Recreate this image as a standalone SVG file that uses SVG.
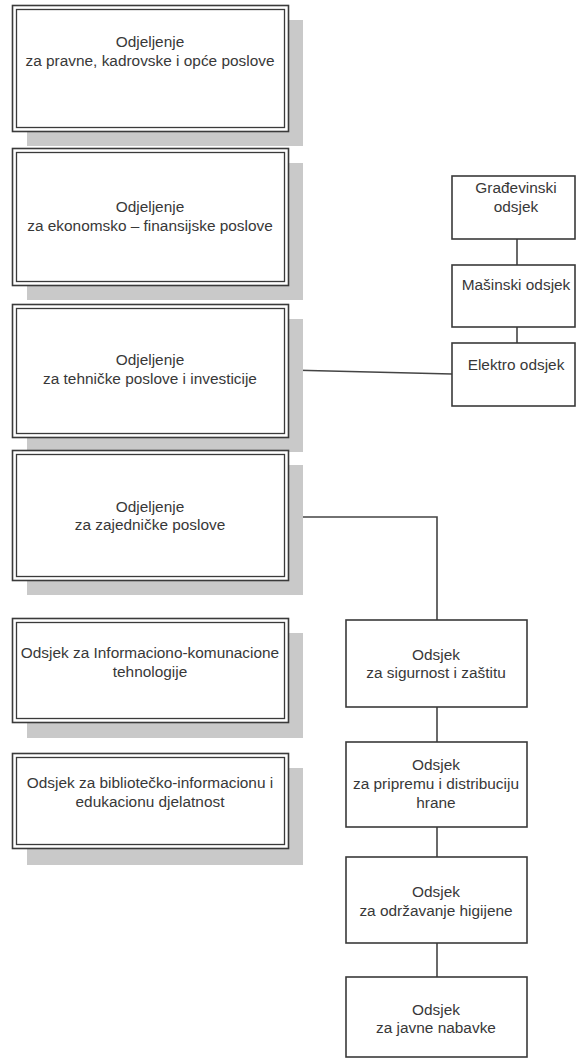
<svg xmlns="http://www.w3.org/2000/svg" width="576" height="1059" viewBox="0 0 576 1059">
  <style>
    .shadow { fill: #c9c9c9; stroke: none; }
    .outer { fill: #ffffff; stroke: #3a3a3a; stroke-width: 1.6; }
    .inner { fill: none; stroke: #3a3a3a; stroke-width: 1.3; }
    .box { fill: #ffffff; stroke: #3a3a3a; stroke-width: 1.6; }
    .lbl { font-family: "Liberation Sans", Arial, sans-serif; font-size: 15.4px; fill: #383838; text-anchor: middle; }
    .conn { fill: none; stroke: #444444; stroke-width: 1.6; }
  </style>

  <rect width="576" height="1059" fill="#ffffff"/>

  <!-- connectors -->
  <g id="connectors">
    <line class="conn" x1="517" y1="239" x2="517" y2="265"/>
    <line class="conn" x1="517" y1="327" x2="517" y2="343"/>
    <line class="conn" x1="288" y1="370" x2="452" y2="374"/>
    <polyline class="conn" points="288,517 437,517 437,620"/>
    <line class="conn" x1="437" y1="707" x2="437" y2="742"/>
    <line class="conn" x1="437" y1="827" x2="437" y2="857"/>
    <line class="conn" x1="437" y1="943" x2="437" y2="977"/>
  </g>

  <!-- departments (double border with drop shadow) -->
  <g id="odjeljenje-pravne">
    <rect class="shadow" x="27" y="20" width="276" height="126"/>
    <rect class="outer" x="12.5" y="5.5" width="276" height="126"/>
    <rect class="inner" x="16.5" y="9.5" width="268" height="118"/>
    <text class="lbl" x="150" y="47">Odjeljenje</text>
    <text class="lbl" x="150" y="66">za pravne, kadrovske i opće poslove</text>
  </g>

  <g id="odjeljenje-ekonomsko">
    <rect class="shadow" x="27" y="163" width="276" height="137"/>
    <rect class="outer" x="12.5" y="148.5" width="276" height="137"/>
    <rect class="inner" x="16.5" y="152.5" width="268" height="129"/>
    <text class="lbl" x="150" y="212">Odjeljenje</text>
    <text class="lbl" x="150" y="231">za ekonomsko – finansijske poslove</text>
  </g>

  <g id="odjeljenje-tehnicke">
    <rect class="shadow" x="27" y="319" width="276" height="133"/>
    <rect class="outer" x="12.5" y="304.5" width="276" height="133"/>
    <rect class="inner" x="16.5" y="308.5" width="268" height="125"/>
    <text class="lbl" x="150" y="365">Odjeljenje</text>
    <text class="lbl" x="150" y="384">za tehničke poslove i investicije</text>
  </g>

  <g id="odjeljenje-zajednicke">
    <rect class="shadow" x="27" y="465" width="276" height="130"/>
    <rect class="outer" x="12.5" y="450.5" width="276" height="130"/>
    <rect class="inner" x="16.5" y="454.5" width="268" height="122"/>
    <text class="lbl" x="150" y="512">Odjeljenje</text>
    <text class="lbl" x="150" y="530">za zajedničke poslove</text>
  </g>

  <g id="odsjek-ikt">
    <rect class="shadow" x="27" y="633" width="276" height="105"/>
    <rect class="outer" x="12.5" y="618.5" width="276" height="104"/>
    <rect class="inner" x="16.5" y="622.5" width="268" height="96"/>
    <text class="lbl" x="150" y="658">Odsjek za Informaciono-komunacione</text>
    <text class="lbl" x="150" y="677">tehnologije</text>
  </g>

  <g id="odsjek-biblioteka">
    <rect class="shadow" x="27" y="768" width="276" height="97"/>
    <rect class="outer" x="12.5" y="753.5" width="276" height="95"/>
    <rect class="inner" x="16.5" y="757.5" width="268" height="87"/>
    <text class="lbl" x="150" y="788">Odsjek za bibliotečko-informacionu i</text>
    <text class="lbl" x="150" y="807">edukacionu djelatnost</text>
  </g>

  <!-- technical sections -->
  <g id="gradjevinski">
    <rect class="box" x="452" y="176" width="123" height="63"/>
    <text class="lbl" x="516" y="193">Građevinski</text>
    <text class="lbl" x="516" y="212">odsjek</text>
  </g>

  <g id="masinski">
    <rect class="box" x="452" y="265" width="123" height="62"/>
    <text class="lbl" x="516" y="290">Mašinski odsjek</text>
  </g>

  <g id="elektro">
    <rect class="box" x="452" y="343" width="123" height="63"/>
    <text class="lbl" x="516" y="370">Elektro odsjek</text>
  </g>

  <!-- common-affairs sections -->
  <g id="sigurnost">
    <rect class="box" x="346" y="620" width="181" height="87"/>
    <text class="lbl" x="436" y="660">Odsjek</text>
    <text class="lbl" x="436" y="678">za sigurnost i zaštitu</text>
  </g>

  <g id="hrana">
    <rect class="box" x="346" y="742" width="181" height="85"/>
    <text class="lbl" x="436" y="770">Odsjek</text>
    <text class="lbl" x="436" y="789">za pripremu i distribuciju</text>
    <text class="lbl" x="436" y="808">hrane</text>
  </g>

  <g id="higijena">
    <rect class="box" x="346" y="857" width="181" height="86"/>
    <text class="lbl" x="436" y="897">Odsjek</text>
    <text class="lbl" x="436" y="916">za održavanje higijene</text>
  </g>

  <g id="nabavke">
    <rect class="box" x="346" y="977" width="181" height="80"/>
    <text class="lbl" x="436" y="1015">Odsjek</text>
    <text class="lbl" x="436" y="1033">za javne nabavke</text>
  </g>
</svg>
